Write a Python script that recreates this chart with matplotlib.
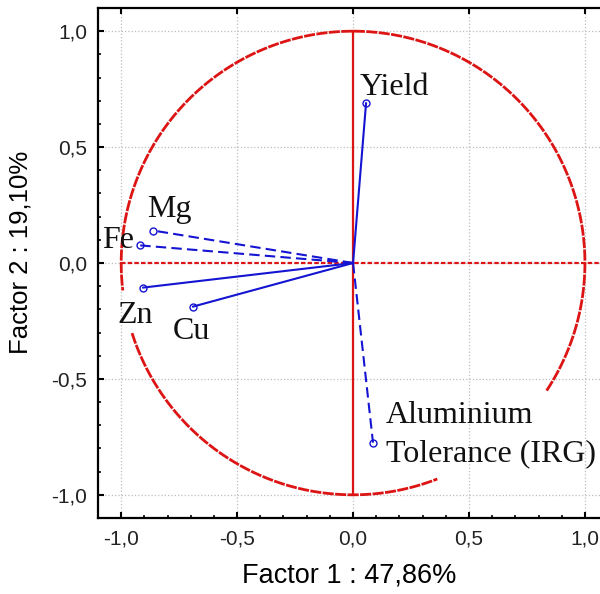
import numpy as np
import matplotlib
matplotlib.use('Agg')
import matplotlib.pyplot as plt
from matplotlib.ticker import MultipleLocator, FuncFormatter

# loadings (Factor 1, Factor 2)
variables = ['Yield', 'Aluminium\nTolerance (IRG)', 'Mg', 'Fe', 'Zn', 'Cu']
factor1 = [0.056, 0.086, -0.862, -0.918, -0.905, -0.690]
factor2 = [0.689, -0.775, 0.140, 0.076, -0.106, -0.188]
dashed = [False, True, True, True, False, False]
# label offsets from the arrow tip, in pixels (dx right, dy up)
label_dx = [-6, 13, -6, -38, -26, -20]
label_dy = [8, 20, 14, -3, -35, -32]

# pieces of the unit circle that are drawn (degrees)
arc_spans = [(-33.4, 186.8), (197.6, 291.3)]

x_label = 'Factor 1 : 47,86%'
y_label = 'Factor 2 : 19,10%'

red = '#dd1414'
blue = '#1414d2'

fig = plt.figure(figsize=(6, 5.94), dpi=100)
ax = fig.add_axes([98 / 600, 76 / 594, 1 - 98 / 600, (518 - 8) / 594])

ax.set_xlim(-1.1, 1.065)
ax.set_ylim(-1.1, 1.1)

ax.grid(True, which='major', color='#bdbdbd', linestyle=':', linewidth=0.9, zorder=0)
ax.set_axisbelow(True)

for a0, a1 in arc_spans:
    t = np.radians(np.linspace(a0, a1, 300))
    ax.plot(np.cos(t), np.sin(t), color=red, linewidth=2.0,
            linestyle=(0, (4, 0.5)), zorder=2)

ax.plot([-1, 1.1], [0, 0], color=red, linewidth=1.6, linestyle=(0, (2, 1)), zorder=2)
ax.plot([0, 0], [-1, 1], color=red, linewidth=1.6, zorder=2)

for name, fx, fy, ds, dx, dy in zip(variables, factor1, factor2, dashed, label_dx, label_dy):
    ls = (0, (5, 2.5)) if ds else '-'
    ax.plot([0, fx], [0, fy], color=blue, linewidth=1.5, linestyle=ls, zorder=3)
    ax.plot(fx, fy, marker='o', markersize=5, markerfacecolor='none',
            markeredgecolor=blue, markeredgewidth=1.0, zorder=4)
    lines = name.split('\n')
    for i, line in enumerate(lines):
        off = dy - i * 39
        ax.annotate(line, (fx, fy), xytext=(dx * 0.72, off * 0.72),
                    textcoords='offset points', ha='left', va='baseline',
                    fontsize=23, family='Liberation Serif', color='#111111', zorder=5)

fmt = FuncFormatter(lambda v, p: f'{v:.1f}'.replace('.', ','))
ax.xaxis.set_major_locator(MultipleLocator(0.5))
ax.yaxis.set_major_locator(MultipleLocator(0.5))
ax.xaxis.set_minor_locator(MultipleLocator(0.1))
ax.yaxis.set_minor_locator(MultipleLocator(0.1))
ax.xaxis.set_major_formatter(fmt)
ax.yaxis.set_major_formatter(fmt)

ax.tick_params(which='both', direction='in', top=False, right=False)
ax.tick_params(which='major', length=4, width=1.5, labelsize=15, pad=8,
               labelcolor='#222222', labelfontfamily='Liberation Sans')
ax.tick_params(which='minor', length=2.5, width=1.2)
ax.tick_params(axis='x', which='major', top=True)

for side in ['left', 'bottom', 'top']:
    ax.spines[side].set_linewidth(1.6)
ax.spines['right'].set_visible(False)

ax.set_xlabel(x_label, fontsize=19.5, family='Liberation Sans', labelpad=10)
ax.set_ylabel(y_label, fontsize=18.5, family='Liberation Sans')
ax.yaxis.set_label_coords((33 - 98) / 502, 0.52)

fig.savefig('out.png', dpi=100)
